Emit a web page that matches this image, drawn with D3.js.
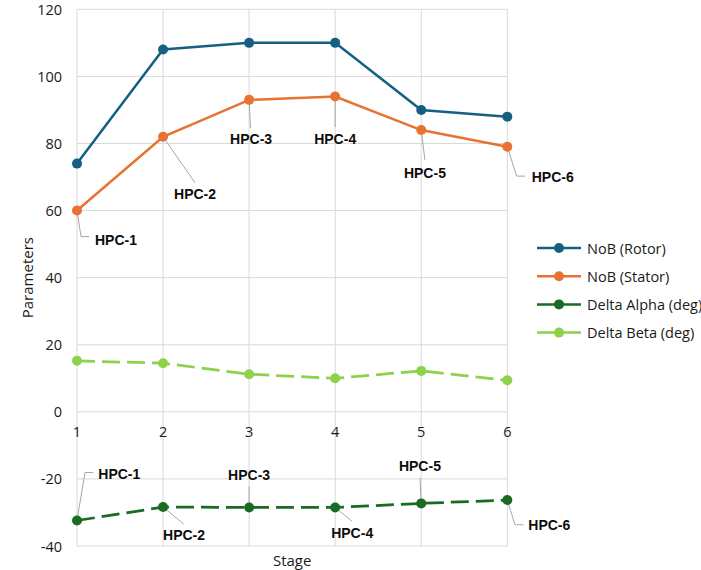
<!DOCTYPE html>
<html>
<head>
<meta charset="utf-8">
<script src="https://cdn.jsdelivr.net/npm/d3@7"></script>
<style>
  html, body { margin: 0; padding: 0; background: #fff; }
  svg { display: block; }
</style>
</head>
<body>
<svg id="chart" width="701" height="570"></svg>
<script>
// ---- data ----
const stages = [1, 2, 3, 4, 5, 6];
const stageLabels = ["HPC-1", "HPC-2", "HPC-3", "HPC-4", "HPC-5", "HPC-6"];
const nobRotor = [74, 108, 110, 110, 90, 88];
const nobStator = [60, 82, 93, 94, 84, 79];
const deltaAlpha = [-32.4, -28.4, -28.5, -28.5, -27.3, -26.3];
const deltaBeta = [15.2, 14.5, 11.2, 10, 12.2, 9.4];
const yTicks = [-40, -20, 0, 20, 40, 60, 80, 100, 120];
const seriesNames = ["NoB (Rotor)", "NoB (Stator)", "Delta Alpha (deg)", "Delta Beta (deg)"];

// ---- styling / layout ----
const colors = ["#156082", "#E97132", "#196B24", "#8ED14A"];
const dashes = [null, null, "18,7", "18,7"];
const font = "'Open Sans', 'Noto Sans', sans-serif";
const labelFont = "'Liberation Sans', Arial, sans-serif";
const textColor = "#1a1a1a";
const fontSize = "14.5px";

const svg = d3.select("#chart");
const x = d3.scaleLinear().domain([1, 6]).range([77, 507.3]);
const y = d3.scaleLinear().domain([-40, 120]).range([546, 9.3]);

// gridlines
svg.append("g").selectAll("line").data(yTicks).join("line")
  .attr("x1", x(1)).attr("x2", x(6))
  .attr("y1", d => y(d)).attr("y2", d => y(d))
  .attr("stroke", "#d9d9d9").attr("stroke-width", 1);
svg.append("g").selectAll("line").data(stages).join("line")
  .attr("x1", d => x(d)).attr("x2", d => x(d))
  .attr("y1", y(120)).attr("y2", y(-40))
  .attr("stroke", "#d9d9d9").attr("stroke-width", 1);

// y tick labels
svg.append("g").selectAll("text").data(yTicks).join("text")
  .attr("x", 62).attr("y", d => y(d))
  .attr("text-anchor", "end").attr("dominant-baseline", "central")
  .style("font-family", font).style("font-size", fontSize).attr("fill", textColor)
  .text(d => d);

// x tick labels (axis crosses at 0)
svg.append("g").selectAll("text").data(stages).join("text")
  .attr("x", d => x(d)).attr("y", y(0) + 20)
  .attr("text-anchor", "middle").attr("dominant-baseline", "central")
  .style("font-family", font).style("font-size", fontSize).attr("fill", textColor)
  .text(d => d);

// axis titles
svg.append("text")
  .attr("transform", `translate(27,${(y(120) + y(-40)) / 2}) rotate(-90)`)
  .attr("text-anchor", "middle").attr("dominant-baseline", "central")
  .style("font-family", font).style("font-size", "15px").attr("fill", textColor)
  .text("Parameters");
svg.append("text")
  .attr("x", (x(1) + x(6)) / 2).attr("y", 560)
  .attr("text-anchor", "middle").attr("dominant-baseline", "central")
  .style("font-family", font).style("font-size", "15px").attr("fill", textColor)
  .text("Stage");

// label layout (pixel offsets from each point): text center/start, leader path
const statorLabelLayout = [
  { dx: 18, dy: 29, anchor: "start", leader: [[0, 0], [4, 26], [12, 26]] },
  { dx: 32, dy: 57, anchor: "middle", leader: [[0, 0], [32, 46]] },
  { dx: 2, dy: 39.5, anchor: "middle", leader: [[0, 0], [1.4, 28]] },
  { dx: 0, dy: 42, anchor: "middle", leader: [[0, 0], [0, 30.5]] },
  { dx: 3.7, dy: 43, anchor: "middle", leader: [[0, 0], [3.7, 30]] },
  { dx: 24.4, dy: 30, anchor: "start", leader: [[0, 0], [9.4, 29.3], [17.7, 29.3]] }
];
const alphaLabelLayout = [
  { dx: 21.3, dy: -47, anchor: "start", leader: [[0, 0], [8, -48], [16.3, -48]] },
  { dx: 21, dy: 28.4, anchor: "middle", leader: [[0, 0], [20.7, 17]] },
  { dx: 0, dy: -32.4, anchor: "middle", leader: [[0, 0], [0, -21]] },
  { dx: 17, dy: 25.6, anchor: "middle", leader: [[0, 0], [17, 14]] },
  { dx: -1.3, dy: -37.7, anchor: "middle", leader: [[0, 0], [-1.3, -25.4]] },
  { dx: 21, dy: 24.7, anchor: "start", leader: [[0, 0], [7.7, 24.7], [16, 24.7]] }
];

function drawLeaders(values, layout) {
  const g = svg.append("g");
  values.forEach((v, i) => {
    const px = x(stages[i]), py = y(v);
    g.append("path")
      .attr("d", d3.line()(layout[i].leader.map(p => [px + p[0], py + p[1]])))
      .attr("fill", "none").attr("stroke", "#a6a6a6").attr("stroke-width", 1);
  });
}
function drawLabels(values, layout) {
  const g = svg.append("g");
  values.forEach((v, i) => {
    const px = x(stages[i]), py = y(v);
    g.append("text")
      .attr("x", px + layout[i].dx).attr("y", py + layout[i].dy)
      .attr("text-anchor", layout[i].anchor).attr("dominant-baseline", "central")
      .style("font-family", labelFont).style("font-size", "14px").style("font-weight", "bold")
      .attr("fill", "#0d0d0d")
      .text(stageLabels[i]);
  });
}

drawLeaders(nobStator, statorLabelLayout);
drawLeaders(deltaAlpha, alphaLabelLayout);

// series
const allSeries = [nobRotor, nobStator, deltaAlpha, deltaBeta];
const line = d3.line().x((d, i) => x(stages[i])).y(d => y(d));
allSeries.forEach((vals, s) => {
  const g = svg.append("g");
  g.append("path").datum(vals)
    .attr("d", line).attr("fill", "none")
    .attr("stroke", colors[s]).attr("stroke-width", s >= 2 ? 2.75 : 2.5)
    .attr("stroke-dasharray", dashes[s]);
  g.selectAll("circle").data(vals).join("circle")
    .attr("cx", (d, i) => x(stages[i])).attr("cy", d => y(d))
    .attr("r", 5).attr("fill", colors[s]);
});

drawLabels(nobStator, statorLabelLayout);
drawLabels(deltaAlpha, alphaLabelLayout);

// legend
const legend = svg.append("g");
seriesNames.forEach((name, i) => {
  const ly = 248 + i * 28.2;
  legend.append("line").attr("x1", 537).attr("x2", 581).attr("y1", ly).attr("y2", ly)
    .attr("stroke", colors[i]).attr("stroke-width", 2.5);
  legend.append("circle").attr("cx", 559).attr("cy", ly).attr("r", 5).attr("fill", colors[i]);
  legend.append("text").attr("x", 587).attr("y", ly)
    .attr("dominant-baseline", "central")
    .style("font-family", font).style("font-size", fontSize).attr("fill", textColor)
    .text(name);
});
</script>
</body>
</html>
